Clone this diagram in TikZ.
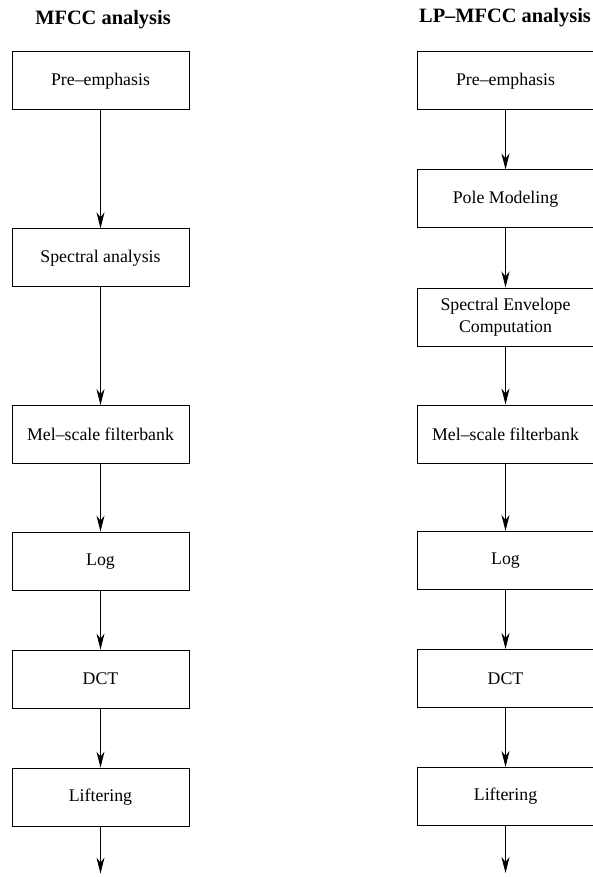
\documentclass[tikz,border=0pt]{standalone}
\usepackage{fontspec}
\setmainfont{Liberation Serif}
\usetikzlibrary{arrows.meta}

\begin{document}
\begin{tikzpicture}[node distance=59pt, line width=0.5pt,
    main/.style = {draw, rectangle, minimum width=88.5pt, minimum height=29pt, inner sep=1pt, align=center, font=\fontsize{8.9}{11}\selectfont},
    title/.style = {anchor=base, font=\fontsize{10.2}{12}\selectfont\bfseries},
    >={Stealth[length=8pt, width=4pt, inset=2.5pt]}]
        \useasboundingbox (0,0) rectangle (296.5pt,-438.5pt);
        % MFCC
        \node[title] (t1) at (51.5pt,-12.5pt) {MFCC analysis};
        \node[main] (m1) at (50.25pt,-40.5pt) {Pre--emphasis};
        \node[main] (m2) [below of=m1, node distance=88.4pt] {Spectral analysis};
        \node[main] (m3) [below of=m2, node distance=88.4pt] {Mel--scale filterbank};
        \node[main] (m4) [below of=m3, node distance=63.25pt] {Log};
        \node[main] (m5) [below of=m4] {DCT};
        \node[main] (m6) [below of=m5] {Liftering};
        \coordinate (m7) at ([yshift=-23.5pt]m6.south);
        \draw[->] (m1) -- (m2);
        \draw[->] (m2) -- (m3);
        \draw[->] (m3) -- (m4);
        \draw[->] (m4) -- (m5);
        \draw[->] (m5) -- (m6);
        \draw[->] (m6) -- (m7);
        % LP-MFCC
        \node[title] (t2) at (252.5pt,-11.5pt) {LP--MFCC analysis};
        \node[main] (p1) at (252.75pt,-40.5pt) {Pre--emphasis};
        \node[main] (p2) [below of=p1] {Pole Modeling};
        \node[main] (p3) [below of=p2] {Spectral Envelope\\Computation};
        \node[main] (p4) [below of=p3, node distance=58.5pt] {Mel--scale filterbank};
        \node[main] (p5) [below of=p4, node distance=63.25pt] {Log};
        \node[main] (p6) [below of=p5] {DCT};
        \node[main] (p7) [below of=p6] {Liftering};
        \coordinate (p8) at ([yshift=-23.5pt]p7.south);
        \draw[->] (p1) -- (p2);
        \draw[->] (p2) -- (p3);
        \draw[->] (p3) -- (p4);
        \draw[->] (p4) -- (p5);
        \draw[->] (p5) -- (p6);
        \draw[->] (p6) -- (p7);
        \draw[->] (p7) -- (p8);
    \end{tikzpicture}
\end{document}
